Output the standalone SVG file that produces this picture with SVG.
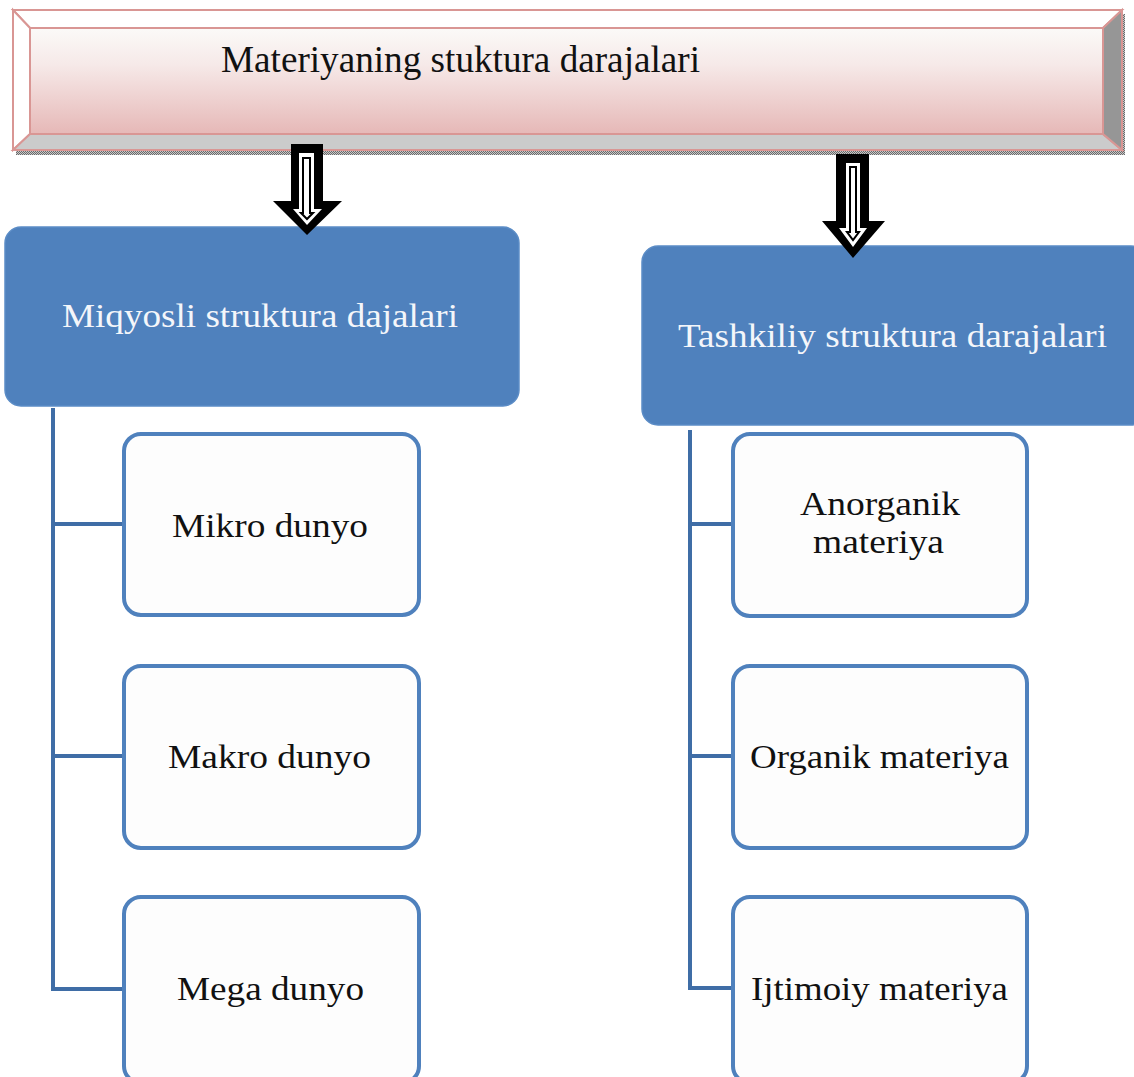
<svg xmlns="http://www.w3.org/2000/svg" width="1134" height="1077" viewBox="0 0 1134 1077">
<defs>
<linearGradient id="face" x1="0" y1="0" x2="0" y2="1">
<stop offset="0" stop-color="#FBFAF8"/>
<stop offset="0.35" stop-color="#F6E9E8"/>
<stop offset="1" stop-color="#E6B8B7"/>
</linearGradient>
<pattern id="dots" width="2" height="2" patternUnits="userSpaceOnUse">
<rect width="2" height="2" fill="#c8c8c8"/>
<rect width="1" height="1" fill="#6a6a6a"/>
<rect x="1" y="1" width="1" height="1" fill="#6a6a6a"/>
</pattern>
<style>
.blue{fill:#4F81BD;stroke:#5B8CC6;stroke-width:1.5}
.child{fill:#FDFDFD;stroke:#4F81BD;stroke-width:4}
.line{stroke:#3F6DA6;stroke-width:4;fill:none;stroke-linecap:square}
.t{font-family:"Liberation Serif","Times New Roman",serif;fill:#111}
.w{font-family:"Liberation Serif","Times New Roman",serif;fill:#F4F6FA}
.bevel{stroke:#D99694;stroke-width:2;stroke-linejoin:miter}
</style>
</defs>
<rect width="1134" height="1077" fill="#FFFFFF"/>

<g id="banner">
<rect x="16" y="150" width="1109" height="5" fill="url(#dots)"/>
<rect x="1122" y="14" width="3" height="141" fill="url(#dots)"/>
<polygon class="bevel" points="13,10 1122,10 1103,28 30,28" fill="#FFFFFF"/>
<polygon class="bevel" points="13,10 30,28 30,134 13,150" fill="#FFFFFF"/>
<polygon class="bevel" points="30,134 1103,134 1122,150 13,150" fill="#CBCBCB"/>
<polygon class="bevel" points="1103,28 1122,10 1122,150 1103,134" fill="#969696"/>
<rect x="30" y="28" width="1073" height="106" fill="url(#face)" stroke="#D99694" stroke-width="2"/>
<text class="t" x="221" y="72" font-size="37" textLength="479" lengthAdjust="spacingAndGlyphs">Materiyaning stuktura darajalari</text>
</g>

<g id="node-miqyosli">
<rect class="blue" x="5" y="227" width="514" height="179" rx="16"/>
<text class="w" x="62" y="327" font-size="34" textLength="396" lengthAdjust="spacingAndGlyphs">Miqyosli struktura dajalari</text>
</g>

<g id="node-tashkiliy">
<rect class="blue" x="642" y="246" width="505" height="179" rx="16"/>
<text class="w" x="678" y="347" font-size="34" textLength="429" lengthAdjust="spacingAndGlyphs">Tashkiliy struktura darajalari</text>
</g>

<g id="connectors">
<path class="line" d="M53,410 V989 M53,524 H122 M53,756 H122 M53,989 H122"/>
<path class="line" d="M690,432 V988 M690,524 H731 M690,756 H731 M690,988 H731"/>
</g>

<g id="node-mikro">
<rect class="child" x="124" y="434" width="295" height="181" rx="17"/>
<text class="t" x="172" y="537" font-size="34" textLength="196" lengthAdjust="spacingAndGlyphs">Mikro dunyo</text>
</g>
<g id="node-makro">
<rect class="child" x="124" y="666" width="295" height="182" rx="17"/>
<text class="t" x="168" y="768" font-size="34" textLength="203" lengthAdjust="spacingAndGlyphs">Makro dunyo</text>
</g>
<g id="node-mega">
<rect class="child" x="124" y="897" width="295" height="186" rx="17"/>
<text class="t" x="177" y="1000" font-size="34" textLength="187" lengthAdjust="spacingAndGlyphs">Mega dunyo</text>
</g>

<g id="node-anorganik">
<rect class="child" x="733" y="434" width="294" height="182" rx="17"/>
<text class="t" x="800" y="515" font-size="34" textLength="160" lengthAdjust="spacingAndGlyphs">Anorganik</text>
<text class="t" x="813" y="553" font-size="34" textLength="131" lengthAdjust="spacingAndGlyphs">materiya</text>
</g>
<g id="node-organik">
<rect class="child" x="733" y="666" width="294" height="182" rx="17"/>
<text class="t" x="750" y="768" font-size="34" textLength="259" lengthAdjust="spacingAndGlyphs">Organik materiya</text>
</g>
<g id="node-ijtimoiy">
<rect class="child" x="733" y="897" width="294" height="186" rx="17"/>
<text class="t" x="751" y="1000" font-size="34" textLength="257" lengthAdjust="spacingAndGlyphs">Ijtimoiy materiya</text>
</g>

<g id="arrow-left">
<polygon points="291,144 323,144 323,201 342,201 307,235 273,201 291,201" fill="#000"/>
<polygon points="299,153 314,153 314,209 322,209 307,225 293,209 299,209" fill="#FFF"/>
<polygon points="303,158 310,158 310,213 313,213 307,219 301,213 303,213" fill="#FFF" stroke="#000" stroke-width="2"/>
</g>
<g id="arrow-right">
<polygon points="836,154 869,154 869,221 885,221 853,258 822,221 836,221" fill="#000"/>
<polygon points="846,163 860,163 860,228 867,228 853,247 839,228 846,228" fill="#FFF"/>
<polygon points="850,167 856,167 856,232 859,232 853,240 847,232 850,232" fill="#FFF" stroke="#000" stroke-width="2"/>
</g>
</svg>
